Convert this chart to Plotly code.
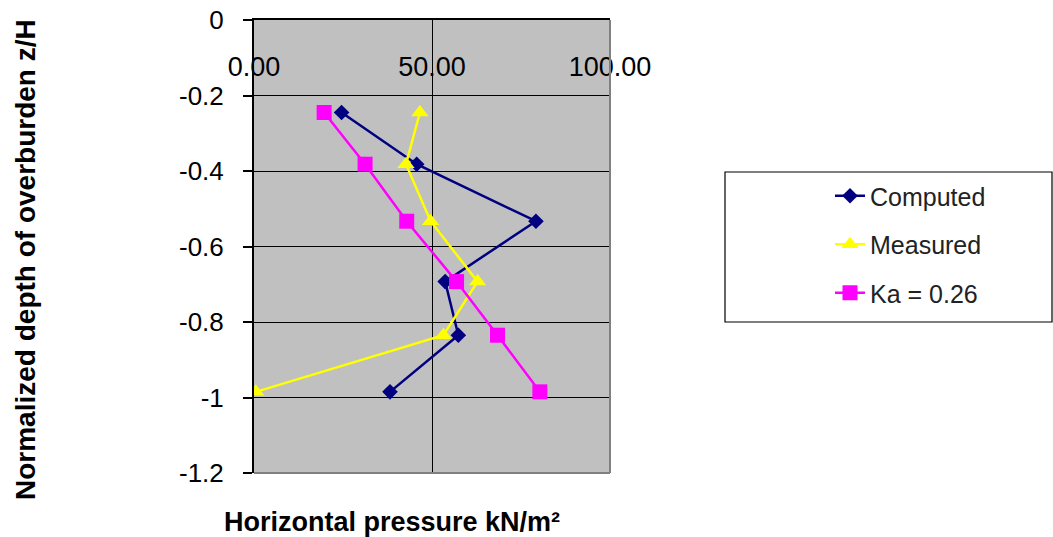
import plotly.graph_objects as go

# ---- data ----
depth = [-0.245, -0.382, -0.533, -0.693, -0.835, -0.985]
computed = [24.6, 45.7, 79.2, 53.7, 57.4, 38.2]
measured = [46.6, 42.7, 49.6, 62.8, 53.2, 0.5]
ka_026 = [19.7, 31.2, 42.9, 56.9, 68.4, 80.3]

series_names = ["Computed", "Measured", "Ka = 0.26"]
x_ticks = [0, 50, 100]
x_tick_labels = ["0.00", "50.00", "100.00"]
y_ticks = [0, -0.2, -0.4, -0.6, -0.8, -1.0, -1.2]
y_tick_labels = ["0", "-0.2", "-0.4", "-0.6", "-0.8", "-1", "-1.2"]

FONT = "Liberation Sans, Arial, sans-serif"

fig = go.Figure()
fig.add_trace(go.Scatter(
    x=computed, y=depth, name=series_names[0], mode="lines+markers",
    line=dict(color="#000080", width=2.5),
    marker=dict(symbol="diamond", size=12, color="#000080"),
    legendgroup="a"))
fig.add_trace(go.Scatter(
    x=measured, y=depth, name=series_names[1], mode="lines+markers",
    line=dict(color="#FFFF00", width=2.5),
    marker=dict(symbol="triangle-up", size=15, color="#FFFF00"),
    legendgroup="b"))
fig.add_trace(go.Scatter(
    x=ka_026, y=depth, name=series_names[2], mode="lines+markers",
    line=dict(color="#FF00FF", width=2.5),
    marker=dict(symbol="square", size=15, color="#FF00FF"),
    legendgroup="c"))

L, R, T, B = 254, 610, 20, 473
W, H = 1053, 537
pw, ph = R - L, B - T

def px(xp):
    return (xp - L) / pw

def py(yp):
    return (B - yp) / ph

fig.update_layout(
    width=W, height=H,
    margin=dict(l=L, r=W - R, t=T, b=H - B, autoexpand=False),
    paper_bgcolor="white",
    plot_bgcolor="#C0C0C0",
    font=dict(family=FONT, color="black"),
    showlegend=True,
    legend=dict(
        x=px(830), xanchor="left", y=py(173), yanchor="top",
        bgcolor="rgba(0,0,0,0)", borderwidth=0,
        font=dict(family=FONT, size=25, color="#222"),
        tracegroupgap=13,
    ),
    xaxis=dict(
        side="top", range=[0, 100], tickvals=x_ticks, ticktext=x_tick_labels,
        ticklabelposition="outside", ticklabelstandoff=-69, ticks="",
        showgrid=True, gridcolor="black", gridwidth=1, zeroline=False,
        showline=True, linecolor="black", linewidth=2,
        tickfont=dict(family=FONT, size=27, color="black"),
    ),
    yaxis=dict(
        range=[-1.2, 0], tickvals=y_ticks, ticktext=y_tick_labels,
        ticks="outside", ticklen=9, tickcolor="black", tickwidth=1.5,
        ticklabelstandoff=14,
        showgrid=True, gridcolor="black", gridwidth=1.2, zeroline=False,
        showline=True, linecolor="black", linewidth=2,
        tickfont=dict(family=FONT, size=26, color="black"),
    ),
    shapes=[
        dict(type="line", xref="paper", yref="paper", x0=1, x1=1, y0=0, y1=1,
             line=dict(color="#808080", width=2), layer="above"),
        dict(type="line", xref="paper", yref="paper", x0=0, x1=1, y0=0, y1=0,
             line=dict(color="#808080", width=2), layer="above"),
        dict(type="rect", xref="paper", yref="paper",
             x0=px(725), x1=px(1052), y0=py(322), y1=py(172),
             line=dict(color="black", width=1.2), fillcolor="white", layer="below"),
    ],
    annotations=[
        dict(text="<b>Horizontal pressure kN/m²</b>", xref="paper", yref="paper",
             x=px(392), y=py(522), xanchor="center", yanchor="middle", showarrow=False,
             font=dict(family=FONT, size=27, color="black")),
        dict(text="<b>Normalized depth of overburden z/H</b>", xref="paper", yref="paper",
             x=px(25), y=py(260), xanchor="center", yanchor="middle", showarrow=False,
             textangle=-90,
             font=dict(family=FONT, size=28, color="black")),
    ],
)

fig.write_html("out.html")
